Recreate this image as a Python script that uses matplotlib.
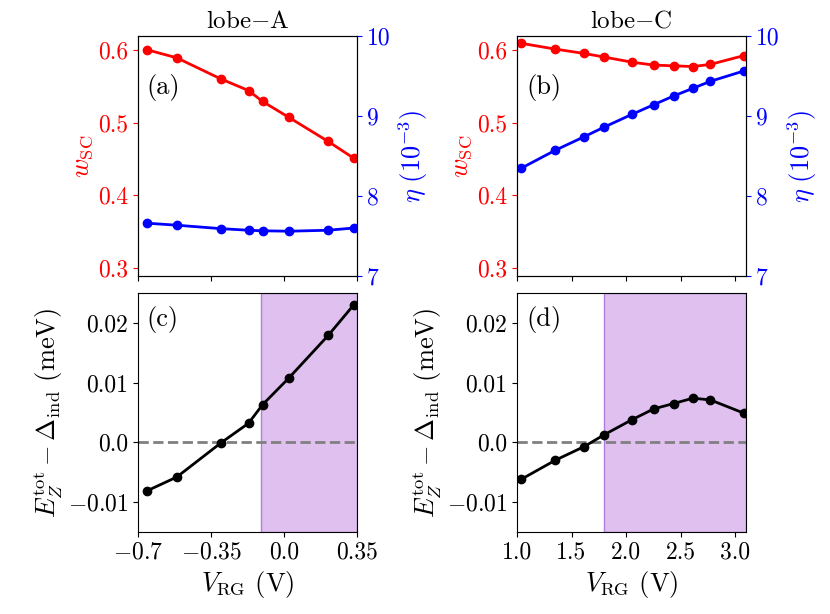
import matplotlib
matplotlib.use("Agg")
import matplotlib.pyplot as plt

plt.rcParams.update({"font.family": "serif", "font.serif": ["cmr10"], "mathtext.fontset": "cm",
                     "axes.formatter.use_mathtext": True, "font.size": 17, "axes.unicode_minus": True})

vA = [-0.656, -0.514, -0.303, -0.170, -0.103, 0.024, 0.212, 0.334]
wA = [0.600, 0.589, 0.560, 0.544, 0.529, 0.507, 0.474, 0.451]
etaA = [7.66, 7.635, 7.592, 7.572, 7.565, 7.56, 7.572, 7.60]
eA = [-0.0081, -0.0058, -0.0001, 0.0032, 0.0063, 0.0108, 0.0179, 0.0230]

vC = [1.037, 1.35, 1.616, 1.802, 2.055, 2.253, 2.436, 2.613, 2.774, 3.079]
wC = [0.609, 0.601, 0.595, 0.590, 0.583, 0.579, 0.578, 0.577, 0.580, 0.592]
etaC = [8.346, 8.571, 8.741, 8.863, 9.021, 9.141, 9.25, 9.346, 9.434, 9.5625]
eC = [-0.0062, -0.0030, -0.0007, 0.0013, 0.0038, 0.0056, 0.0065, 0.0074, 0.0071, 0.0049]

shadeA = (-0.112, 0.35)
shadeC = (1.8, 3.1)

W, H = 830, 614
fig = plt.figure(figsize=(8.3, 6.14), dpi=100)
def ax_at(x0, x1, y0, y1):
    return fig.add_axes([x0 / W, 1 - y1 / H, (x1 - x0) / W, (y1 - y0) / H])

cols = [
    dict(x=(138, 357), v=vA, w=wA, eta=etaA, e=eA, shade=shadeA, xlim=(-0.7, 0.35),
         xt=[-0.7, -0.35, 0.0, 0.35], xtl=["$-0.7$", "$-0.35$", "0.0", "0.35"], title="lobe$-$A", lab=("(a)", "(c)")),
    dict(x=(517, 746), v=vC, w=wC, eta=etaC, e=eC, shade=shadeC, xlim=(1.0, 3.1),
         xt=[1.0, 1.5, 2.0, 2.5, 3.0], xtl=["1.0", "1.5", "2.0", "2.5", "3.0"], title="lobe$-$C", lab=("(b)", "(d)")),
]
for c in cols:
    ax = ax_at(c["x"][0], c["x"][1], 36, 276)
    ax.plot(c["v"], c["w"], "o-", color="red", ms=6, lw=2)
    ax.set_ylim(0.289, 0.619)
    ax.set_xlim(*c["xlim"])
    ax.set_xticks(c["xt"]); ax.set_xticklabels([])
    ax.set_yticks([0.3, 0.4, 0.5, 0.6]); ax.set_yticklabels(["0.3", "0.4", "0.5", "0.6"])
    ax.tick_params(axis="y", colors="red")
    ax.set_ylabel(r"$w_{\rm SC}$", color="red", fontsize=19, labelpad=2)
    ax.set_title(c["title"], fontsize=18)
    ax.text(0.04, 0.76, c["lab"][0], transform=ax.transAxes, fontsize=19)
    ax2 = ax.twinx()
    ax2.plot(c["v"], c["eta"], "o-", color="blue", ms=6, lw=2)
    ax2.set_ylim(7, 10)
    ax2.set_yticks([7, 8, 9, 10]); ax2.set_yticklabels(["7", "8", "9", "10"])
    ax2.tick_params(axis="y", colors="blue")
    ax2.set_ylabel(r"$\eta\ (10^{-3})$", color="blue", fontsize=19)

    bx = ax_at(c["x"][0], c["x"][1], 293, 532)
    bx.axvspan(*c["shade"], color="#dfc0ee", ec="#b07ee0", lw=1)
    bx.axhline(0, color="gray", ls="--", lw=2)
    bx.plot(c["v"], c["e"], "o-", color="black", ms=6, lw=2)
    bx.set_xlim(*c["xlim"]); bx.set_ylim(-0.015, 0.025)
    bx.set_xticks(c["xt"]); bx.set_xticklabels(c["xtl"])
    bx.set_yticks([-0.01, 0.0, 0.01, 0.02]); bx.set_yticklabels(["$-0.01$", "0.0", "0.01", "0.02"])
    bx.set_xlabel(r"$V_{\rm RG}$ (V)", fontsize=19)
    bx.set_ylabel(r"$E_Z^{\rm tot}-\Delta_{\rm ind}$ (meV)", fontsize=19, labelpad=2)
    bx.text(0.04, 0.86, c["lab"][1], transform=bx.transAxes, fontsize=19)

fig.savefig("out.png", dpi=100)
